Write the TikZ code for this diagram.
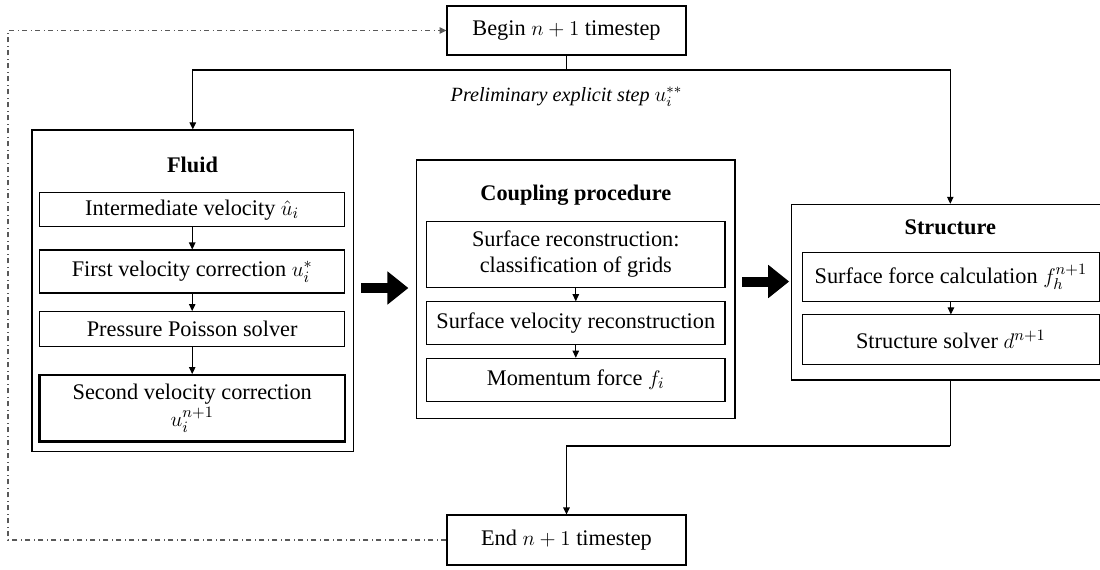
\documentclass[tikz,border=0pt]{standalone}
\usepackage{fontspec}
\setmainfont{Liberation Serif}
\usetikzlibrary{arrows.meta}

\tikzset{
  stepbox/.style={draw, line width=0.6pt, align=center, inner sep=0pt},
  groupbox/.style={draw, line width=0.8pt, inner sep=0pt},
  title/.style={font=\fontsize{12.7}{15}\selectfont\bfseries},
  link/.style={line width=0.6pt, -{Triangle[length=1.4mm,width=1.3mm]}},
  bigarrow/.style={line width=2mm, -{Triangle[length=4.2mm,width=6.4mm]}},
  loopline/.style={dash dot, gray!70!black, line width=0.6pt}
}

\begin{document}
\begin{tikzpicture}[x=0.02cm, y=-0.02cm, font=\fontsize{12.7}{15}\selectfont]
\useasboundingbox (0,0) rectangle (1100,569);

% time step boxes
\node[stepbox, minimum width=4.78cm, minimum height=0.98cm] (begin) at (566.5,30.5) {Begin $n+1$ timestep};
\node[stepbox, minimum width=4.78cm, minimum height=1.0cm] (end) at (566.5,540) {End $n+1$ timestep};

% fluid
\node[groupbox, minimum width=6.44cm, minimum height=6.43cm] (fluid) at (192.8,290.8) {};
\node[title] (fluidtitle) at (192.5,165) {Fluid};
\node[stepbox, minimum width=6.11cm, minimum height=0.68cm] (inter) at (192.2,209.7) {Intermediate velocity $\hat{u}_i$};
\node[stepbox, minimum width=6.11cm, minimum height=0.86cm] (first) at (192.2,271.5) {First velocity correction $u_i^{*}$};
\node[stepbox, minimum width=6.11cm, minimum height=0.69cm] (press) at (192.2,328.8) {Pressure Poisson solver};
\node[stepbox, line width=1.2pt, minimum width=6.11cm, minimum height=1.33cm] (second) at (192.2,408.3) {Second velocity correction\\ $u_i^{n+1}$};

% coupling
\node[groupbox, minimum width=6.37cm, minimum height=5.17cm] (coupling) at (575.8,289.2) {};
\node[title] (couplingtitle) at (575.8,195) {Coupling procedure};
\node[stepbox, minimum width=5.97cm, minimum height=1.33cm] (recon) at (575.8,254.3) {Surface reconstruction:\\ classification of grids};
\node[stepbox, minimum width=5.97cm, minimum height=0.85cm] (vel) at (575.8,323) {Surface velocity reconstruction};
\node[stepbox, minimum width=5.97cm, minimum height=0.87cm] (mom) at (575.8,380) {Momentum force $f_i$};

% structure
\node[groupbox, minimum width=6.35cm, minimum height=3.51cm] (structure) at (950.3,292.2) {};
\node[title] (structuretitle) at (950.3,227) {Structure};
\node[stepbox, minimum width=5.93cm, minimum height=0.99cm] (force) at (950.9,277) {Surface force calculation $f_h^{n+1}$};
\node[stepbox, minimum width=5.93cm, minimum height=0.99cm] (solver) at (950.9,339.7) {Structure solver $d^{n+1}$};

% connectors
\coordinate (split) at (566.5,70);
\draw[line width=0.6pt] (begin) -- (split);
\draw[link] (split) -| (fluid.north);
\draw[link] (split) -| (structure.north);
\node[font=\fontsize{11.5}{13}\selectfont] (prelim) at (566.5,97) {\textit{Preliminary explicit step} $u_i^{**}$};

\draw[link] (inter) -- (first);
\draw[link] (first) -- (press);
\draw[link] (press) -- (second);
\draw[link] (recon) -- (vel);
\draw[link] (vel) -- (mom);
\draw[link] (force) -- (solver);

\path ([yshift=0.056cm]fluid.east) coordinate (fa);
\draw[bigarrow, shorten <=0.134cm, shorten >=0.15cm] (fa) -- (fa -| coupling.west);
\path ([yshift=0.154cm]coupling.east) coordinate (ca);
\draw[bigarrow, shorten <=0.134cm, shorten >=0.034cm] (ca) -- (ca -| structure.west);

\coordinate (join) at (950.3,446);
\draw[line width=0.6pt] (structure.south) -- (join);
\draw[link] (join) -| (end.north);

% back to next step
\coordinate (back) at (8,300);
\draw[loopline, -{Triangle[length=1.4mm,width=1.3mm]}] (end.west) -- (end.west -| back) -- (begin.west -| back) -- (begin.west);
\end{tikzpicture}
\end{document}
